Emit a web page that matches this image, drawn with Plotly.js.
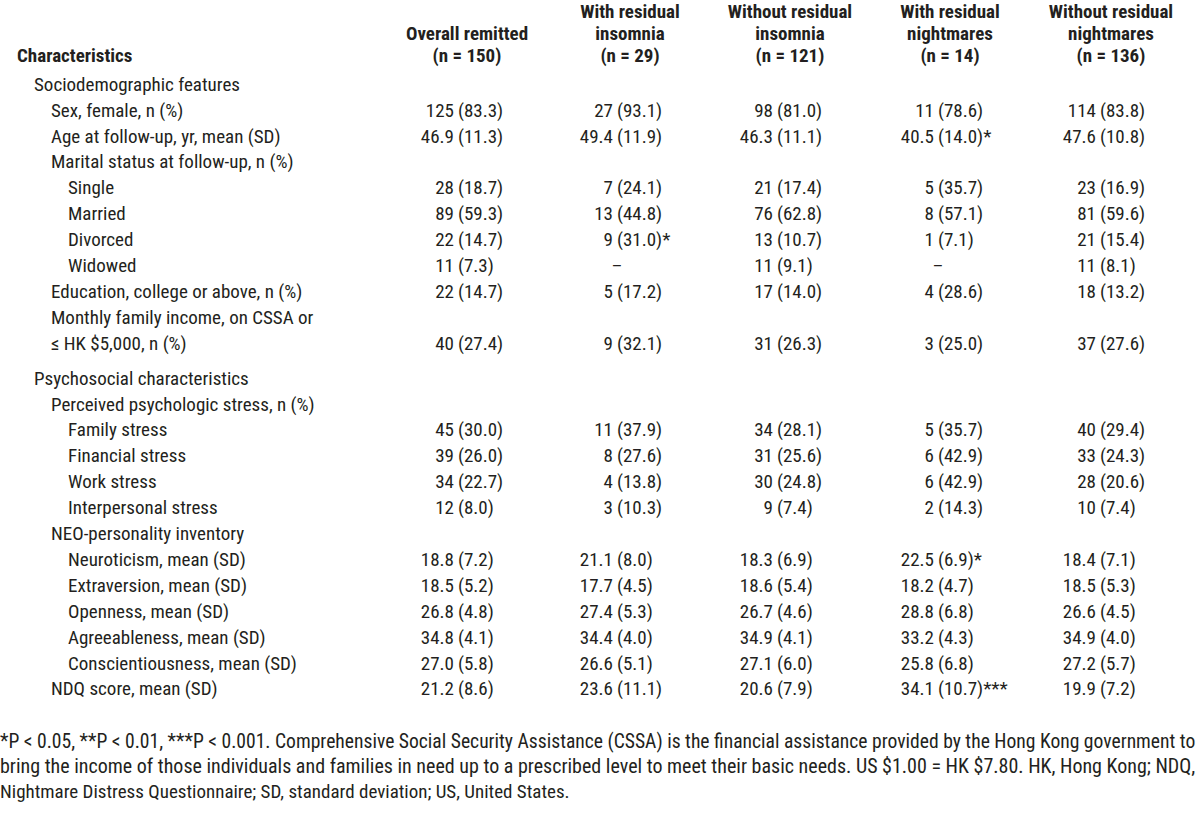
<!DOCTYPE html>
<html>
<head>
<meta charset="utf-8">
<script src="https://cdn.plot.ly/plotly-3.0.1.min.js"></script>
<style>
  html, body { margin: 0; padding: 0; background: #fff; }
  #table-chart { width: 1200px; height: 813px; }
</style>
</head>
<body>
<div id="table-chart"></div>
<script>
// column headers (one entry per header line, top to bottom)
var colHeaders = [
    ["", "Overall remitted", "(n = 150)"],
    ["With residual", "insomnia", "(n = 29)"],
    ["Without residual", "insomnia", "(n = 121)"],
    ["With residual", "nightmares", "(n = 14)"],
    ["Without residual", "nightmares", "(n = 136)"]
];

var rowLabels = [
    "Sociodemographic features",
    "Sex, female, n (%)",
    "Age at follow-up, yr, mean (SD)",
    "Marital status at follow-up, n (%)",
    "Single", "Married", "Divorced", "Widowed",
    "Education, college or above, n (%)",
    "Monthly family income, on CSSA or",
    "\u2264 HK $5,000, n (%)",
    "Psychosocial characteristics",
    "Perceived psychologic stress, n (%)",
    "Family stress", "Financial stress", "Work stress", "Interpersonal stress",
    "NEO-personality inventory",
    "Neuroticism, mean (SD)", "Extraversion, mean (SD)", "Openness, mean (SD)",
    "Agreeableness, mean (SD)", "Conscientiousness, mean (SD)",
    "NDQ score, mean (SD)"
];
var rowLevels = [1, 2, 2, 2, 3, 3, 3, 3, 2, 2, 2, 1, 2, 3, 3, 3, 3, 2, 3, 3, 3, 3, 3, 2];

var overallRemitted = ["", "125 (83.3)", "46.9 (11.3)", "", "28 (18.7)", "89 (59.3)", "22 (14.7)", "11 (7.3)",
    "22 (14.7)", "", "40 (27.4)", "", "", "45 (30.0)", "39 (26.0)", "34 (22.7)", "12 (8.0)", "",
    "18.8 (7.2)", "18.5 (5.2)", "26.8 (4.8)", "34.8 (4.1)", "27.0 (5.8)", "21.2 (8.6)"];
var withInsomnia = ["", "27 (93.1)", "49.4 (11.9)", "", "7 (24.1)", "13 (44.8)", "9 (31.0)*", "\u2013",
    "5 (17.2)", "", "9 (32.1)", "", "", "11 (37.9)", "8 (27.6)", "4 (13.8)", "3 (10.3)", "",
    "21.1 (8.0)", "17.7 (4.5)", "27.4 (5.3)", "34.4 (4.0)", "26.6 (5.1)", "23.6 (11.1)"];
var withoutInsomnia = ["", "98 (81.0)", "46.3 (11.1)", "", "21 (17.4)", "76 (62.8)", "13 (10.7)", "11 (9.1)",
    "17 (14.0)", "", "31 (26.3)", "", "", "34 (28.1)", "31 (25.6)", "30 (24.8)", "9 (7.4)", "",
    "18.3 (6.9)", "18.6 (5.4)", "26.7 (4.6)", "34.9 (4.1)", "27.1 (6.0)", "20.6 (7.9)"];
var withNightmares = ["", "11 (78.6)", "40.5 (14.0)*", "", "5 (35.7)", "8 (57.1)", "1 (7.1)", "\u2013",
    "4 (28.6)", "", "3 (25.0)", "", "", "5 (35.7)", "6 (42.9)", "6 (42.9)", "2 (14.3)", "",
    "22.5 (6.9)*", "18.2 (4.7)", "28.8 (6.8)", "33.2 (4.3)", "25.8 (6.8)", "34.1 (10.7)***"];
var withoutNightmares = ["", "114 (83.8)", "47.6 (10.8)", "", "23 (16.9)", "81 (59.6)", "21 (15.4)", "11 (8.1)",
    "18 (13.2)", "", "37 (27.6)", "", "", "40 (29.4)", "33 (24.3)", "28 (20.6)", "10 (7.4)", "",
    "18.4 (7.1)", "18.5 (5.3)", "26.6 (4.5)", "34.9 (4.0)", "27.2 (5.7)", "19.9 (7.2)"];

var footnoteLines = [
    "*P < 0.05, **P < 0.01, ***P < 0.001. Comprehensive Social Security Assistance (CSSA) is the financial assistance provided by the Hong Kong government to",
    "bring the income of those individuals and families in need up to a prescribed level to meet their basic needs. US $1.00 = HK $7.80. HK, Hong Kong; NDQ,",
    "Nightmare Distress Questionnaire; SD, standard deviation; US, United States."
];

(function() {
    var FONT = "'Roboto Condensed', 'Liberation Sans', sans-serif";
    var SIZE = 19;
    var INK = "#231f20";

    var columns = [overallRemitted, withInsomnia, withoutInsomnia, withNightmares, withoutNightmares];
    var parenX = [458, 617, 777, 938, 1100];      // where the "(" of each column sits
    var headerX = [467, 630, 790, 950, 1111];
    var headerY = [13, 35, 57];

    var rowY = rowLabels.map(function(lab, i) {
        var gap = i >= rowLabels.indexOf("Psychosocial characteristics") ? 9 : 0;
        return 86 + i * 25.9 + gap;
    });

    function textTrace(xs, ys, texts, pos, bold, size) {
        return {
            type: "scatter",
            mode: "text",
            x: xs,
            y: ys,
            text: texts.map(function(t) { return bold ? "<b>" + t + "</b>" : t; }),
            textposition: pos,
            textfont: { family: FONT, size: size || SIZE, color: INK },
            cliponaxis: false,
            hoverinfo: "skip",
            showlegend: false
        };
    }

    var data = [];

    // header
    data.push(textTrace([17], [headerY[2]], ["Characteristics"], "middle right", true));
    colHeaders.forEach(function(lines, c) {
        var xs = [], ys = [], ts = [];
        lines.forEach(function(line, k) {
            if (!line) return;
            xs.push(headerX[c]); ys.push(headerY[k]); ts.push(line);
        });
        data.push(textTrace(xs, ys, ts, "middle center", true));
    });

    // row labels, indented by level
    data.push(textTrace(
        rowLevels.map(function(l) { return 17 + 17 * l; }),
        rowY, rowLabels, "middle right", false));

    // cells, lined up on the opening bracket
    columns.forEach(function(col, c) {
        var lx = [], ly = [], lt = [];
        var rx = [], ry = [], rt = [];
        var cx = [], cy = [], ct = [];
        col.forEach(function(v, i) {
            if (!v) return;
            var k = v.indexOf("(");
            if (k < 0) {
                cx.push(parenX[c]); cy.push(rowY[i]); ct.push(v);
                return;
            }
            lx.push(parenX[c] - 4); ly.push(rowY[i]); lt.push(v.slice(0, k).trim());
            rx.push(parenX[c]); ry.push(rowY[i]); rt.push(v.slice(k));
        });
        data.push(textTrace(lx, ly, lt, "middle left", false));
        data.push(textTrace(rx, ry, rt, "middle right", false));
        if (ct.length) data.push(textTrace(cx, cy, ct, "middle center", false));
    });

    // footnote: first two lines run the full width (justified in the source)
    var ctx = document.createElement("canvas").getContext("2d");
    var footY = [743, 768, 793];
    footnoteLines.forEach(function(line, i) {
        var size = SIZE;
        if (i < footnoteLines.length - 1) {
            ctx.font = SIZE + "px " + FONT;
            size = Math.min(21, SIZE * 1196 / ctx.measureText(line).width);
        }
        data.push(textTrace([0], [footY[i]], [line], "middle right", false, size));
    });

    var layout = {
        width: 1200,
        height: 813,
        margin: { l: 0, r: 0, t: 0, b: 0 },
        paper_bgcolor: "#ffffff",
        plot_bgcolor: "#ffffff",
        showlegend: false,
        hovermode: false,
        xaxis: { range: [0, 1200], visible: false, fixedrange: true },
        yaxis: { range: [813, 0], visible: false, fixedrange: true }
    };

    Plotly.newPlot("table-chart", data, layout, { displayModeBar: false, staticPlot: true });
})();
</script>
</body>
</html>
